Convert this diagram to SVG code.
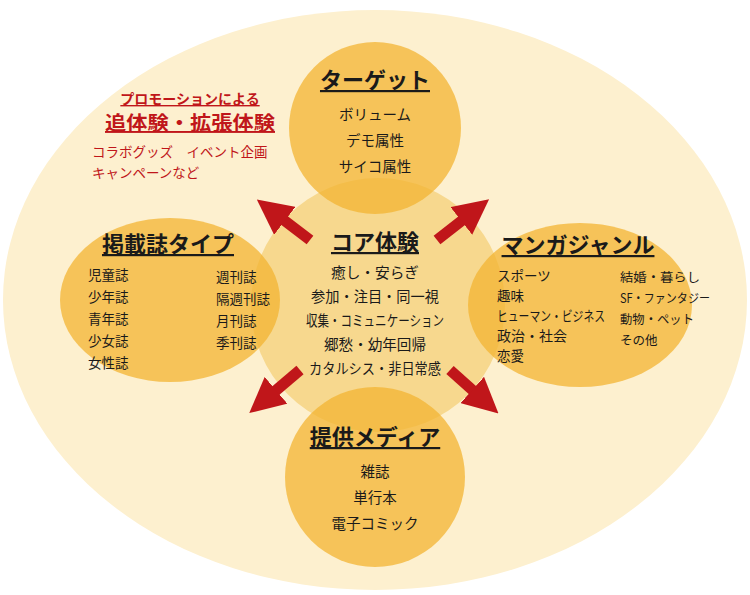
<svg xmlns="http://www.w3.org/2000/svg" width="750" height="595" viewBox="0 0 750 595">
<defs>
<style>
text{font-family:"Noto Sans CJK JP","Noto Sans CJK SC",sans-serif;fill:#1a1a1a}
.t{font-size:22px;font-weight:bold;text-decoration:underline;text-anchor:middle}
.b{font-size:14.5px;text-anchor:middle}
.l{font-size:13.5px}
.s{font-size:12.5px}
.r{fill:#c0161a}
.sat{fill:#f3b431;fill-opacity:0.75}
</style>
<marker id="ah" viewBox="0 0 10 10" refX="6" refY="5" markerWidth="3.2" markerHeight="3.2" orient="auto"><path d="M0,0L10,5L0,10z" fill="#c0161a"/></marker>
</defs>
<rect width="750" height="595" fill="#fff"/>
<ellipse cx="375" cy="300" rx="372" ry="290" fill="#fdf0cf"/>
<g id="core"><circle cx="378" cy="305" r="127" fill="#f7d88e"/>
<text class="t" x="375" y="250">コア体験</text>
<text class="b" x="375" y="278" textLength="88" lengthAdjust="spacingAndGlyphs">癒し・安らぎ</text>
<text class="b" x="375" y="302" textLength="128" lengthAdjust="spacingAndGlyphs">参加・注目・同一視</text>
<text class="b" x="375" y="326" textLength="138" lengthAdjust="spacingAndGlyphs">収集・コミュニケーション</text>
<text class="b" x="375" y="350" textLength="102" lengthAdjust="spacingAndGlyphs">郷愁・幼年回帰</text>
<text class="b" x="375" y="374" textLength="132" lengthAdjust="spacingAndGlyphs">カタルシス・非日常感</text></g>
<g id="target"><circle cx="375" cy="128" r="86" class="sat"/>
<text class="t" x="375" y="88">ターゲット</text>
<text class="b" x="375" y="120">ボリューム</text>
<text class="b" x="375" y="146">デモ属性</text>
<text class="b" x="375" y="172">サイコ属性</text></g>
<g id="media"><circle cx="375" cy="477" r="90" class="sat"/>
<text class="t" x="375" y="445">提供メディア</text>
<text class="b" x="375" y="477">雑誌</text>
<text class="b" x="375" y="503">単行本</text>
<text class="b" x="375" y="529">電子コミック</text></g>
<g id="magazine"><ellipse cx="170" cy="300" rx="110" ry="82" class="sat"/>
<text class="t" x="168" y="252">掲載誌タイプ</text>
<text class="l" x="88" y="280">児童誌</text><text class="l" x="88" y="302">少年誌</text><text class="l" x="88" y="324">青年誌</text><text class="l" x="88" y="346">少女誌</text><text class="l" x="88" y="368">女性誌</text>
<text class="l" x="216" y="282">週刊誌</text><text class="l" x="216" y="304">隔週刊誌</text><text class="l" x="216" y="326">月刊誌</text><text class="l" x="216" y="348">季刊誌</text></g>
<g id="genre"><ellipse cx="580" cy="305" rx="112" ry="82" class="sat"/>
<text class="t" x="578" y="253">マンガジャンル</text>
<text class="l" x="497" y="281">スポーツ</text><text class="l" x="497" y="301">趣味</text><text class="l" x="497" y="321" textLength="108" lengthAdjust="spacingAndGlyphs">ヒューマン・ビジネス</text><text class="l" x="497" y="341" textLength="70" lengthAdjust="spacingAndGlyphs">政治・社会</text><text class="l" x="497" y="361">恋愛</text>
<text class="s" x="620" y="282" textLength="80" lengthAdjust="spacingAndGlyphs">結婚・暮らし</text><text class="s" x="620" y="303" textLength="90" lengthAdjust="spacingAndGlyphs">SF・ファンタジー</text><text class="s" x="620" y="324" textLength="74" lengthAdjust="spacingAndGlyphs">動物・ペット</text><text class="s" x="620" y="345">その他</text></g>
<g id="promo">
<text x="190" y="104" font-size="14" font-weight="bold" text-anchor="middle" text-decoration="underline" class="r">プロモーションによる</text>
<text x="190" y="130" font-size="19" font-weight="bold" text-anchor="middle" text-decoration="underline" class="r" textLength="170" lengthAdjust="spacingAndGlyphs">追体験・拡張体験</text>
<text x="92" y="157" font-size="13.5" class="r">コラボグッズ　イベント企画</text>
<text x="92" y="178" font-size="13.5" class="r">キャンペーンなど</text></g>
<g id="connectors" stroke="#c0161a" stroke-width="11" marker-end="url(#ah)">
<line x1="310" y1="240" x2="268" y2="208"/>
<line x1="437" y1="240" x2="478" y2="208"/>
<line x1="300" y1="370" x2="260" y2="404"/>
<line x1="450" y1="370" x2="488" y2="404"/>
</g>
</svg>
